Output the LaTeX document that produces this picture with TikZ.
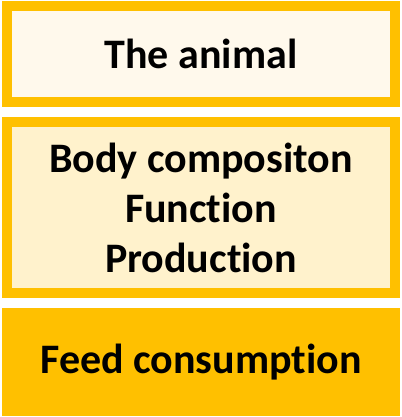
\documentclass[tikz,border=0pt]{standalone}
\usepackage{fontspec}
\setmainfont[Ligatures=NoCommon]{Carlito}
\usetikzlibrary{positioning}

\definecolor{gold}{HTML}{FFC000}
\definecolor{palegold}{HTML}{FFF2CC}
\definecolor{cream}{HTML}{FFF9EC}

\begin{document}
\begin{tikzpicture}[
        x=1pt, y=1pt,
        node distance=10pt,
        every node/.style={font=\fontsize{42}{50}\selectfont\bfseries, align=center},
        level/.style={draw=gold, line width=10pt, minimum width=388pt, inner sep=0pt}
    ]
        \useasboundingbox (0,0) rectangle (401,-417);
        \node[level, fill=cream, minimum height=96pt] (animal) at (201,-54) {The animal};
\node[level, fill=palegold, minimum height=171pt, below=of animal] (traits) {Body compositon\\Function\\Production};
        \node[level, fill=gold, minimum height=98pt, below=of traits] (feed) {Feed consumption};
\end{tikzpicture}
\end{document}
